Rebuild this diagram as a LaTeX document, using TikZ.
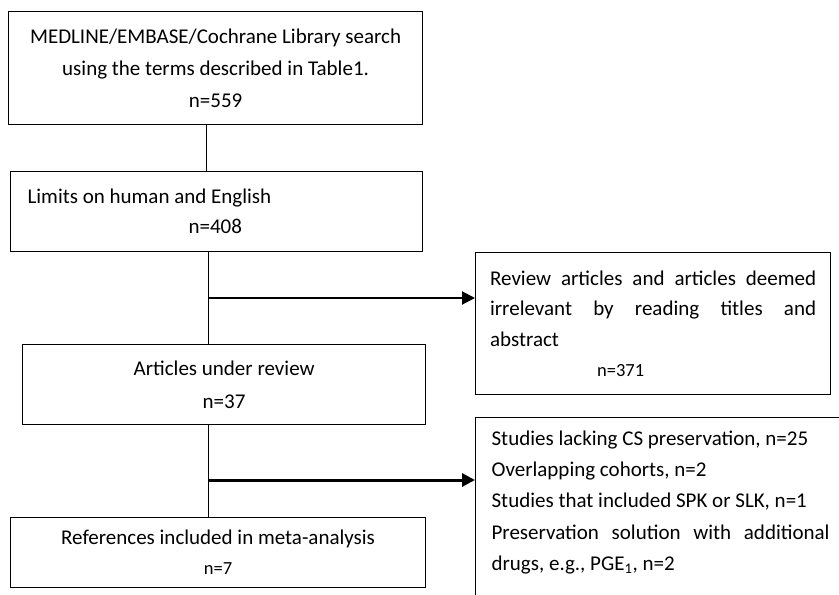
\documentclass[tikz,border=0pt]{standalone}
\usepackage{fontspec}
\setmainfont{Carlito}
\usetikzlibrary{arrows.meta}
\begin{document}
\begin{tikzpicture}[x=1pt,y=-1pt,
  box/.style={draw=black, line width=1.2pt, inner sep=0pt},
  spine/.style={draw=black, line width=1.3pt},
  arr/.style={draw=black, line width=2pt, -{Triangle[length=13pt,width=13pt]}},
]
\useasboundingbox (0,0) rectangle (839,595);
\clip (0,0) rectangle (839,595);
\fill[white] (0,0) rectangle (839,595);

\node[box, anchor=north west, minimum width=414pt, minimum height=113pt, align=center,
  font=\fontsize{21}{32}\selectfont] (b1) at (8,11)
  {MEDLINE/EMBASE/Cochrane Library search\\using the terms described in Table1.\\n=559};

\node[box, anchor=north west, text width=378pt, inner xsep=17pt, minimum height=80pt, align=flush left,
  font=\fontsize{21}{30}\selectfont] (b2) at (10,171)
  {Limits on human and English\\\hspace*{161pt}n=408};

\node[box, anchor=north west, text width=326pt, inner xsep=14.5pt, minimum height=142pt, align=flush left,
  font=\fontsize{21}{30.5}\selectfont] (b3) at (475,252)
  {\makebox[326pt][l]{Review\hfill articles\hfill and\hfill articles\hfill deemed}\\
   \makebox[326pt][l]{irrelevant\hfill by\hfill reading\hfill titles\hfill and}\\
   abstract\\
   \hspace*{107pt}{\fontsize{18.5}{30.5}\selectfont n=371}};

\node[box, anchor=north west, minimum width=403pt, minimum height=80pt, align=center,
  font=\fontsize{21}{33}\selectfont] (b4) at (22,344)
  {Articles under review\\n=37};

\node[box, anchor=north west, minimum width=415pt, minimum height=70pt, align=center,
  font=\fontsize{21}{30}\selectfont] (b5) at (10,517)
  {References included in meta-analysis\\{\fontsize{18.5}{30}\selectfont n=7}};

\node[box, anchor=north west, text width=338pt, inner xsep=16pt, inner ysep=13pt, align=flush left,
  font=\fontsize{21}{31.3}\selectfont] (b6) at (475,417)
  {Studies lacking CS preservation, n=25\\
   Overlapping cohorts, n=2\\
   Studies that included SPK or SLK, n=1\\
   \makebox[338pt][l]{Preservation\hfill solution\hfill with\hfill additional}\\
   drugs, e.g., PGE\textsubscript{1}, n=2\rule[-80pt]{0pt}{1pt}};

\draw[spine] ([xshift=-9pt]b1.south) -- ([xshift=-9pt]b1.south |- b2.north);
\draw[spine] ([xshift=-8pt]b2.south) -- ([xshift=-8pt]b2.south |- b4.north);
\draw[spine] ([xshift=-15.5pt]b4.south) -- ([xshift=-15.5pt]b4.south |- b5.north);

\coordinate (j1) at (208,298);
\coordinate (j2) at (208,480);
\draw[arr] (j1) -- (j1 -| b3.west);
\draw[arr, line width=3pt] (j2) -- (j2 -| b6.west);
\end{tikzpicture}
\end{document}
